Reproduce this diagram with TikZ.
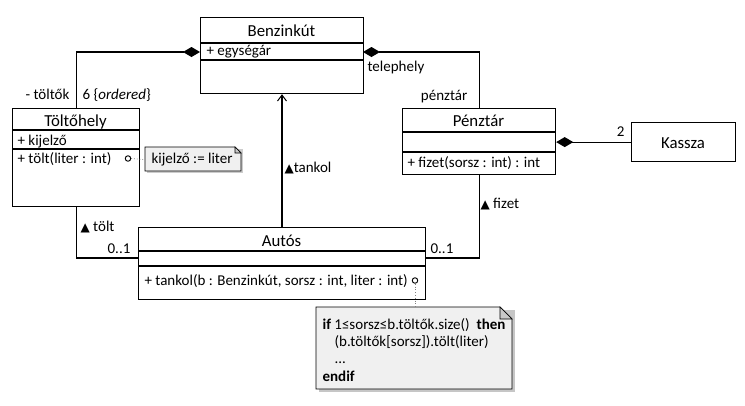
\documentclass[tikz,border=0pt]{standalone}
\usepackage{fontspec}
\setmainfont{Carlito}
\newfontfamily\symfont{DejaVu Sans}
\usetikzlibrary{arrows.meta}
\definecolor{notefill}{HTML}{F0F0F0}
\definecolor{foldfill}{HTML}{C8C8C8}
\newcommand\mytri{{\symfont\fontsize{12}{14}\selectfont ▲}}
\begin{document}
\begin{tikzpicture}[x=1pt,y=-1pt,line width=1.2pt,
  cls/.style={draw,anchor=north west,inner sep=0pt},
  cname/.style={font=\fontsize{16.8}{19}\selectfont,inner sep=0pt,anchor=base},
  attr/.style={font=\fontsize{15}{17}\selectfont,inner sep=0pt,anchor=base west},
  lbl/.style={font=\fontsize{15}{17}\selectfont,inner sep=0pt},
  comp/.style={{Diamond[length=17pt,width=10pt,fill=black]}-},
  nav/.style={-{Straight Barb[length=6pt,width=9pt,line width=1pt]}},
  opdot/.style={circle,draw,line width=0.9pt,minimum size=5.5pt,inner sep=0pt,fill=white},
  anchorline/.style={dotted,line width=0.8pt,draw=gray}
]
\useasboundingbox (0,0) rectangle (745,405);

% Benzinkut
\node[cls,minimum width=163pt,minimum height=76pt] (benz) at (200,17) {};
\draw (200,43) -- (363,43);
\draw (200,60) -- (363,60);
\node[cname] (benzn) at (281.5,36.5) {Benzinkút};
\node[attr] (benza) at (206,55.5) {+ egységár};

% Toltohely
\node[cls,minimum width=127pt,minimum height=98pt] (tolt) at (12,108) {};
\draw (12,130) -- (139,130);
\draw (12,149) -- (139,149);
\node[cname] (toltn) at (75.5,126.5) {Töltőhely};
\node[attr] (tolta) at (17,145.5) {+ kijelző};
\node[attr] (tolto) at (17,163) {+ tölt(liter : int)};
\node[opdot] (toltdot) at (128,158.5) {};

% small note
\node[inner sep=0pt,minimum width=96pt,minimum height=24pt,anchor=north west] (note1) at (145,147) {};
\fill[gray!40] (147,149) -- (243,149) -- (243,173) -- (147,173) -- cycle;
\draw[fill=notefill,line width=0.9pt] (145,147) -- (235,147) -- (241,153) -- (241,171) -- (145,171) -- cycle;
\draw[fill=foldfill,line width=0.6pt] (235,147) -- (241,153) -- (235,153) -- cycle;
\node[lbl,anchor=base west] (note1t) at (151,163) {kijelző := liter};
\draw[anchorline] (toltdot.east) -- (note1.west);

% Penztar
\node[cls,minimum width=153pt,minimum height=66pt] (penz) at (402,108) {};
\draw (402,132) -- (555,132);
\draw (402,152) -- (555,152);
\node[cname] (penzn) at (478.5,126.5) {Pénztár};
\node[attr] (penzo) at (407,167) {+ fizet(sorsz : int) : int};

% Kassza
\node[cls,minimum width=104pt,minimum height=39pt] (kassza) at (631,122) {};
\node[cname] (kasszan) at (683,148) {Kassza};

% Autos
\node[cls,minimum width=287pt,minimum height=72pt] (autos) at (138,227) {};
\draw (138,251) -- (425,251);
\draw (138,266) -- (425,266);
\node[cname] (autosn) at (281.5,246.5) {Autós};
\node[attr] (autoso) at (144,285) {+ tankol(b : Benzinkút, sorsz : int, liter : int)};
\node[opdot] (autosdot) at (415,280.5) {};

% big note
\node[inner sep=0pt,minimum width=196pt,minimum height=82pt,anchor=north west] (note2) at (316,307) {};
\fill[gray!45] (318.5,309.5) -- (514.5,309.5) -- (514.5,391.5) -- (318.5,391.5) -- cycle;
\draw[fill=notefill,line width=0.9pt] (316,307) -- (500,307) -- (512,319) -- (512,389) -- (316,389) -- cycle;
\draw[fill=foldfill,line width=0.6pt] (500,307) -- (512,319) -- (500,319) -- cycle;
\node[attr] (n2a) at (322,329) {\textbf{if} 1≤sorsz≤b.töltők.size()\ \ \textbf{then}};
\node[attr] (n2b) at (334,346.5) {(b.töltők[sorsz]).tölt(liter)};
\node[attr] (n2c) at (334,363) {...};
\node[attr] (n2d) at (322,381.5) {\textbf{endif}};
\draw[anchorline] (autosdot.south) -- (autosdot.south |- note2.north);

% connectors
\coordinate (bl) at (200,52);
\coordinate (br) at (363,52);
\draw[comp] (bl) -| (tolt.north);
\draw[comp] (br) -| (penz.north);
\draw[comp] (penz.east |- kassza.west) -- (kassza.west);
\draw[nav] (autos.north -| 282,0) -- (benz.south -| 282,0);
\coordinate (al) at (138,258);
\coordinate (ar) at (425,258);
\draw (tolt.south) |- (al);
\draw (penz.south) |- (ar);

% labels
\node[lbl,anchor=base east] (l1) at (70,99) {- töltők};
\node[lbl,anchor=base west] (l2) at (82,99) {6 \{\textit{ordered}\}};
\node[lbl,anchor=base west] (l3) at (367,71.5) {telephely};
\node[lbl,anchor=base east] (l4) at (468,100) {pénztár};
\node[lbl,anchor=base east] (l5) at (625,136.5) {2};
\node[lbl,anchor=base west] (l6) at (284,172) {\mytri tankol};
\node[lbl,anchor=base west] (l7) at (80,231.5) {\mytri\ tölt};
\node[lbl,anchor=base east] (l8) at (131,253) {0..1};
\node[lbl,anchor=base west] (l9) at (430,253) {0..1};
\node[lbl,anchor=base west] (l10) at (480,208.5) {\mytri\ fizet};
\end{tikzpicture}
\end{document}
